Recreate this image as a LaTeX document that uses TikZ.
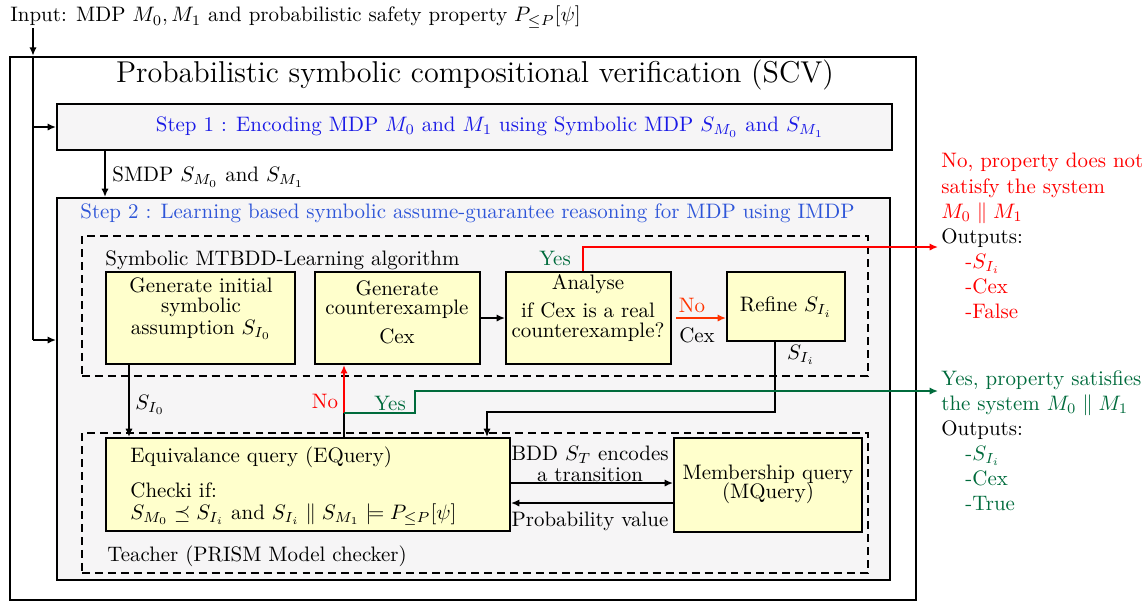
\documentclass[tikz,border=0pt]{standalone}
\usetikzlibrary{arrows.meta,fit}
\definecolor{boxyellow}{HTML}{FFFFCC}
\definecolor{stepgray}{HTML}{F6F5F6}
\definecolor{myblue}{HTML}{1A1AE6}
\definecolor{myblue2}{HTML}{2E55D8}
\definecolor{mygreen}{HTML}{006B3C}
\definecolor{myred}{HTML}{FF0000}
\definecolor{myorange}{HTML}{FF3300}
\begin{document}
\begin{tikzpicture}[x=0.478pt,y=-0.478pt,
  arr/.style={-{Latex[length=4pt,width=3.5pt]}, line width=0.9pt},
  ln/.style={line width=0.9pt},
  ybox/.style={draw, line width=0.95pt, fill=boxyellow, inner sep=0pt},
  gbox/.style={draw, line width=0.95pt, fill=stepgray, inner sep=0pt},
  dbox/.style={draw, dash pattern=on 3.8pt off 2.4pt, line width=0.95pt, inner sep=0pt},
  txt/.style={inner sep=0pt, font=\normalsize}]
\useasboundingbox (0,0) rectangle (1148,603);
% outer frame
\node[draw, line width=1.2pt, inner sep=0pt, fit={(10,57)(916,600)}] (outer) {};
\node[txt, font=\Large] (title) at (475,75) {Probabilistic symbolic compositional verification (SCV)};
% step 1
\node[gbox, fit={(57,104)(892,150)}] (s1) {};
\node[txt, text=myblue] (s1t) at (490,127) {Step 1 : Encoding MDP $M_0$ and $M_1$ using Symbolic MDP $S_{M_0}$ and $S_{M_1}$};
% step 2
\node[gbox, fit={(57,198)(890,580)}] (s2) {};
\node[txt, text=myblue2, anchor=west] (s2t) at (80,213) {Step 2 : Learning based symbolic assume-guarantee reasoning for MDP using IMDP};
% dashed groups
\node[dbox, fit={(82,236)(868,376)}] (learn) {};
\node[txt, anchor=west] (learnt) at (105,260) {Symbolic MTBDD-Learning algorithm};
\node[dbox, fit={(82,433)(868,573)}] (teach) {};
\node[txt, anchor=west] (teacht) at (107,556) {Teacher (PRISM Model checker)};
% yellow boxes
\node[ybox, fit={(106,272)(295,364)}] (A) {};
\node[txt, align=center] (At) at (201,309) {Generate initial\\[-2.6pt] symbolic\\[-1.5pt] assumption $S_{I_0}$};
\node[ybox, fit={(315,272)(480,364)}] (B) {};
\node[txt, align=center] (Bt) at (397,312) {Generate\\[-3pt] counterexample\\[1.9pt] Cex};
\node[ybox, fit={(506,272)(671,364)}] (C) {};
\node[txt, align=center] (Ct) at (588,308) {Analyse\\[1.4pt] if Cex is a real\\[-2.2pt] counterexample?};
\node[ybox, fit={(727,272)(845,341)}] (D) {};
\node[txt] (Dt) at (786,307) {Refine $S_{I_i}$};
\node[ybox, fit={(106,438)(510,531)}] (E) {};
\node[txt, align=left, anchor=north west] (Et) at (130,446) {Equivalance query (EQuery)\\[5pt] Checki if:\\[-1.5pt] $S_{M_0} \preceq S_{I_i}$ and $S_{I_i} \parallel S_{M_1} \models P_{\leq P}[\psi]$};
\node[ybox, fit={(674,438)(862,532)}] (M) {};
\node[txt, align=center] (Mt) at (768,484) {Membership query\\[-3pt] (MQuery)};
% input
\node[txt, anchor=west] (input) at (10,17) {Input: MDP $M_0, M_1$ and probabilistic safety property $P_{\leq P}[\psi]$};
\coordinate (spine) at (33,340);
\draw[arr] (input.south west -| spine) -- (outer.north -| spine);
\draw[ln] (outer.north -| spine) -- (spine);
\draw[arr] (s1.west -| spine) -- (s1.west);
\draw[arr] (spine) -- (spine -| s2.west);
% step1 -> step2
\coordinate (k1) at (105,0);
\draw[arr] (s1.south -| k1) -- (s2.north -| k1);
\node[txt, anchor=west] (smdp) at (112,177) {SMDP $S_{M_0}$ and $S_{M_1}$};
% learning flow
\draw[arr] (B.east) -- (C.west);
\draw[arr, myorange] ([xshift=2pt]C.east) -- (C.east -| D.west);
\node[txt, text=myorange] (no1) at (692,305) {No};
\node[txt] (cex1) at (697,335) {Cex};
\coordinate (cy) at (583,247);
\coordinate (noend) at (938,247);
\draw[arr, myred] (C.north -| cy) -- (cy) -- (noend);
\node[txt, text=mygreen] (yes1) at (555,258) {Yes};
% refine -> EQuery
\coordinate (d1) at (775,412);
\coordinate (d2) at (487,412);
\draw[arr] (D.south -| d1) -- (d1) -- (d2) -- (E.north -| d2);
\node[txt] (sii) at (801,355) {$S_{I_i}$};
% initial -> EQuery
\coordinate (a1) at (129,0);
\draw[arr] (A.south -| a1) -- (E.north -| a1);
\node[txt] (si0) at (150,405) {$S_{I_0}$};
% EQuery outcomes
\coordinate (g1) at (344,413);
\coordinate (g2) at (415,391);
\coordinate (yesend) at (938,391);
\draw[ln] (E.north -| g1) -- (g1);
\draw[arr, myred] (g1) -- (B.south -| g1);
\draw[arr, mygreen] (g1) -| (g2) -- (yesend);
\node[txt, text=myred] (no2) at (325,401) {No};
\node[txt, text=mygreen] (yes2) at (390,403) {Yes};
% EQuery <-> MQuery
\coordinate (t1) at (0,483);
\coordinate (t2) at (0,503);
\draw[arr] (E.east |- t1) -- (M.west |- t1);
\draw[arr] (M.west |- t2) -- (E.east |- t2);
\node[txt, align=center, anchor=south] (bdd) at (590,482) {BDD $S_T$ encodes\\[-2pt] a transition};
\node[txt] (prob) at (590,521) {Probability value};
% outputs
\node[txt, align=left, anchor=north west, text=myred] (nores) at (941,153) {No, property does not\\ satisfy the system\\ $M_0 \parallel M_1$\\ \textcolor{black}{Outputs:}\\ \hspace*{11.5pt}-$S_{I_i}$\\ \hspace*{11.5pt}-Cex\\ \hspace*{11.5pt}-False};
\node[txt, align=left, anchor=north west, text=mygreen] (yesres) at (941,370) {Yes, property satisfies\\ the system $M_0 \parallel M_1$\\ \textcolor{black}{Outputs:}\\ \hspace*{11.5pt}-$S_{I_i}$\\ \hspace*{11.5pt}-Cex\\ \hspace*{11.5pt}-True};
\end{tikzpicture}
\end{document}
